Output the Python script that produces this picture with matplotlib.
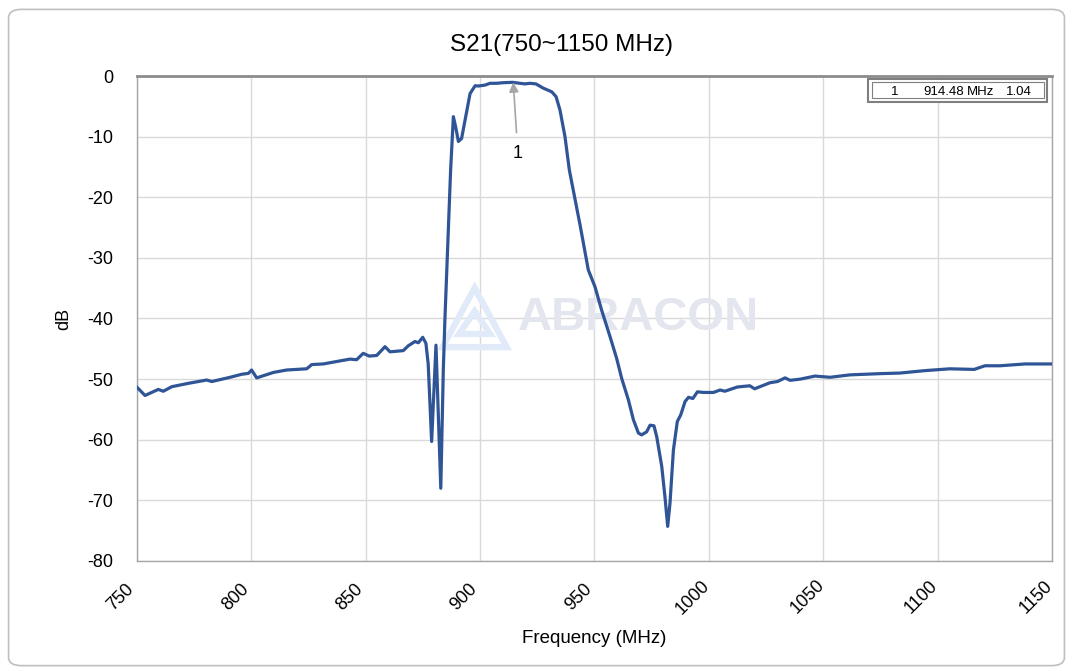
import numpy as np
import matplotlib
matplotlib.use("Agg")
import matplotlib.pyplot as plt
import matplotlib.transforms as mtransforms
from matplotlib.patches import Rectangle, FancyBboxPatch, Polygon

plt.rcParams['font.family'] = ['Liberation Sans', 'DejaVu Sans']

# S21 trace (MHz, dB)
freq = [750, 753.5, 759.3, 761.5, 765.2, 772.4, 780.5, 782.7, 790.7, 795.8,
        798.7, 800.1, 802.3, 809.6, 815.4, 824.2, 826.4, 831.4, 843.1, 846,
        848.9, 851.5, 854.8, 858.4, 860.6, 866.4, 868.6, 871.5, 873, 874.9,
        876.3, 877.3, 878.8, 880.7, 882.8, 883.9, 884.6, 887.1, 888.3, 889.3,
        890.5, 891.9, 893.4, 895.6, 897.8, 899.2, 902.1, 904.3, 907.2, 910.1,
        914.2, 917.4, 919.6, 921.8, 924.4, 927.6, 931.3, 933.2, 934.9, 937.1,
        939, 943.7, 947.3, 950.2, 953.1, 956.8, 959.7, 961.9, 964.8, 967,
        969.2, 970.6, 972.8, 974.3, 976, 977.2, 979.4, 980.8, 982, 983,
        984.5, 986.2, 987.7, 989.6, 991.1, 993, 995, 997.6, 1002, 1004.9,
        1007, 1012.5, 1017.9, 1020, 1026.7, 1030, 1033.3, 1035.5, 1040, 1046.4,
        1053, 1061.7, 1074.8, 1083.6, 1094.5, 1105.4, 1116, 1120.7, 1127.3, 1138.2,
        1150]
s21 = [-51.35, -52.7, -51.7, -52.0, -51.25, -50.7, -50.15, -50.4, -49.7, -49.2,
       -49.05, -48.5, -49.8, -48.9, -48.5, -48.3, -47.6, -47.5, -46.7, -46.8,
       -45.75, -46.2, -46.1, -44.65, -45.5, -45.3, -44.5, -43.8, -44.0, -43.1,
       -44.1, -47.5, -60.3, -44.4, -68.0, -48.5, -40.2, -15.5, -6.7, -8.4,
       -10.8, -10.3, -7.3, -2.9, -1.6, -1.65, -1.5, -1.2, -1.2, -1.1,
       -1.04, -1.2, -1.3, -1.2, -1.3, -2.0, -2.6, -3.4, -5.6, -10.0,
       -15.5, -24.6, -32.0, -34.75, -38.6, -43.0, -46.6, -49.9, -53.4, -56.7,
       -58.9, -59.2, -58.7, -57.6, -57.7, -59.5, -64.4, -69.4, -74.3, -70.5,
       -61.7, -57.0, -55.9, -53.7, -53.0, -53.2, -52.1, -52.2, -52.2, -51.8,
       -52.0, -51.3, -51.1, -51.6, -50.6, -50.4, -49.8, -50.2, -50.0, -49.5,
       -49.7, -49.3, -49.1, -49.0, -48.6, -48.3, -48.4, -47.8, -47.8, -47.5,
       -47.5]

marker_f = 914.48
marker_db = -1.04
xticks = [750, 800, 850, 900, 950, 1000, 1050, 1100, 1150]
yticks = [0, -10, -20, -30, -40, -50, -60, -70, -80]

fig = plt.figure(figsize=(10.73, 6.71), dpi=100)
fig.patches.append(FancyBboxPatch((0.008, 0.008), 0.984, 0.978,
                                  boxstyle="round,pad=0,rounding_size=0.012",
                                  transform=fig.transFigure, fill=False,
                                  edgecolor='#bfbfbf', linewidth=1.2))

ax = fig.add_axes([0.1277, 0.164, 0.8527, 0.7227])
ax.plot(freq, s21, color='#2f5597', linewidth=2.3, zorder=3)

ax.set_xlim(750, 1150)
ax.set_ylim(-80, 0)
ax.set_xticks(xticks)
ax.set_yticks(yticks)
ax.set_xticklabels([str(t) for t in xticks], fontsize=13)
ax.set_yticklabels([str(t) for t in yticks], fontsize=13)
ax.tick_params(axis='y', length=0, pad=17)
ax.tick_params(axis='x', length=0, pad=26)
shift = mtransforms.ScaledTranslation(-0.16, 0, fig.dpi_scale_trans)
for lbl in ax.get_xticklabels():
    lbl.set_rotation(45)
    lbl.set_ha('center')
    lbl.set_va('center')
    lbl.set_rotation_mode('anchor')
    lbl.set_transform(lbl.get_transform() + shift)
ax.grid(color='#d9d9d9', linewidth=1.0)
ax.set_axisbelow(True)
for sp in ax.spines.values():
    sp.set_color('#a6a6a6')
    sp.set_linewidth(1.0)
ax.spines['top'].set_color('#8c8c8c')
ax.spines['top'].set_linewidth(2)

fig.text(0.523, 0.933, 'S21(750~1150 MHz)', fontsize=17.5, ha='center',
         va='center')
ax.set_xlabel('Frequency (MHz)', fontsize=13.5)
ax.set_ylabel('dB', fontsize=13)
ax.xaxis.set_label_coords(0.5, -0.159)
ax.yaxis.set_label_coords(-0.08, 0.5)
ax.xaxis.label.set_va('center')
ax.yaxis.label.set_va('center')

# watermark
ax.text(0.548, 0.501, 'ABRACON', transform=ax.transAxes, fontsize=34,
        fontweight='bold', color='#e3e6ee', ha='center', va='center',
        zorder=1, family=['Liberation Sans'])
logo = [[(0.334, 0.441), (0.369, 0.563), (0.404, 0.441)],
        [(0.352, 0.468), (0.369, 0.515), (0.386, 0.468)]]
for pts in logo:
    ax.add_patch(Polygon(pts, closed=True, fill=False, edgecolor='#e0eaf8',
                         linewidth=4.5, joinstyle='miter',
                         transform=ax.transAxes, zorder=1))

# marker annotation
ax.annotate('1', xy=(marker_f, marker_db), xytext=(916.5, -12.8),
            fontsize=13, ha='center', va='center',
            arrowprops=dict(arrowstyle='-|>', color='#a6a6a6', lw=1.2,
                            mutation_scale=14, shrinkA=7, shrinkB=0),
            zorder=4)

# marker table
ax.add_patch(Rectangle((0.799, 0.947), 0.196, 0.047, transform=ax.transAxes,
                       fill=True, facecolor='white', edgecolor='#7f7f7f',
                       linewidth=1.5, zorder=5))
ax.add_patch(Rectangle((0.803, 0.954), 0.188, 0.033, transform=ax.transAxes,
                       fill=False, edgecolor='#7f7f7f', linewidth=0.8, zorder=6))
ty = 0.968
ax.text(0.828, ty, '1', transform=ax.transAxes, fontsize=9.5, ha='center',
        va='center', zorder=7)
ax.text(0.859, ty, '%.2f' % marker_f, transform=ax.transAxes, fontsize=9.5,
        ha='left', va='center', zorder=7)
ax.text(0.907, ty, 'MHz', transform=ax.transAxes, fontsize=9.5, ha='left',
        va='center', zorder=7)
ax.text(0.950, ty, '%.2f' % abs(marker_db), transform=ax.transAxes,
        fontsize=9.5, ha='left', va='center', zorder=7)

fig.savefig('out.png', dpi=100)
